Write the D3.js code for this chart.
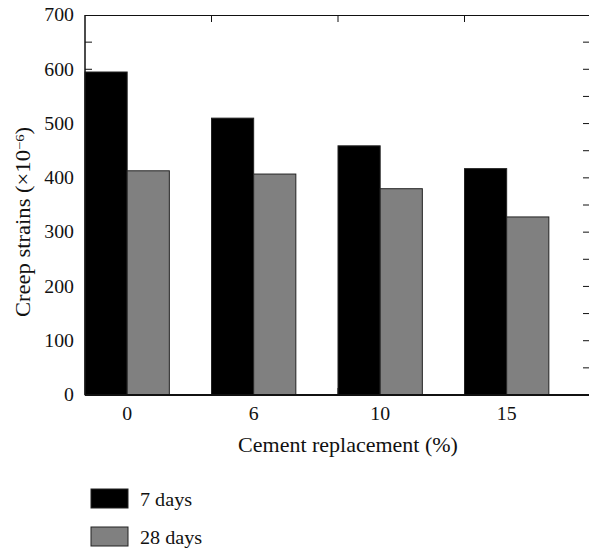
<!DOCTYPE html>
<html>
<head>
<meta charset="utf-8">
<script src="https://cdn.jsdelivr.net/npm/d3@7"></script>
<style>
  body { margin: 0; background: #fff; }
  svg text { font-family: "Liberation Serif", "DejaVu Serif", serif; fill: #111; }
</style>
</head>
<body>
<div id="chart"></div>
<script>
// chart data
const categories = ["0", "6", "10", "15"];
const seriesNames = ["7 days", "28 days"];
const days7 = [595, 510, 459, 417];
const days28 = [413, 407, 380, 328];
const yTicks = [0, 100, 200, 300, 400, 500, 600, 700];
const yMinorTicks = d3.range(50, 700, 50);

const colors = ["#000000", "#808080"];

const W = 589, H = 552;
const plot = { left: 85, right: 591, top: 15, bottom: 395 };
const sx = 1.1; // the reference typeface is a bit wider than Liberation Serif

const svg = d3.select("#chart")
    .append("svg")
    .attr("width", W)
    .attr("height", H);

// scales
const x = d3.scaleBand()
    .domain(categories)
    .range([plot.left, plot.right])
    .paddingInner(0)
    .paddingOuter(0);

const xSub = d3.scaleBand()
    .domain(seriesNames)
    .range([0, x.bandwidth() * 2 / 3]);

const y = d3.scaleLinear()
    .domain([0, 700])
    .range([plot.bottom, plot.top]);

// ticks on frame (inward)
const tickLen = 7;
const ticksG = svg.append("g").attr("stroke", "#111").attr("stroke-width", 1);

// left / right ticks every 50
ticksG.selectAll(".lt")
    .data(yMinorTicks)
    .enter().append("line")
    .attr("x1", plot.left).attr("x2", plot.left + tickLen)
    .attr("y1", d => y(d)).attr("y2", d => y(d));
ticksG.selectAll(".rt")
    .data(yMinorTicks)
    .enter().append("line")
    .attr("x1", plot.right - tickLen - 1).attr("x2", plot.right)
    .attr("y1", d => y(d)).attr("y2", d => y(d));

// top / bottom ticks at group boundaries
const bounds = categories.slice(1).map(c => x(c));
ticksG.selectAll(".tt")
    .data(bounds)
    .enter().append("line")
    .attr("x1", d => d).attr("x2", d => d)
    .attr("y1", plot.top).attr("y2", plot.top + tickLen);
ticksG.selectAll(".bt")
    .data(bounds)
    .enter().append("line")
    .attr("x1", d => d).attr("x2", d => d)
    .attr("y1", plot.bottom).attr("y2", plot.bottom - tickLen);

// bars
const rows = categories.map((c, i) => ({ cat: c, vals: [days7[i], days28[i]] }));

const groups = svg.append("g")
    .selectAll("g")
    .data(rows)
    .enter().append("g")
    .attr("transform", d => `translate(${x(d.cat)},0)`);

groups.selectAll("rect")
    .data(d => d.vals.map((v, k) => ({ key: seriesNames[k], value: v, k: k })))
    .enter().append("rect")
    .attr("x", d => xSub(d.key))
    .attr("y", d => y(d.value))
    .attr("width", xSub.bandwidth())
    .attr("height", d => y(0) - y(d.value))
    .attr("fill", d => colors[d.k])
    .attr("stroke", "#222")
    .attr("stroke-width", 1);

// frame
svg.append("line")
    .attr("x1", plot.left).attr("x2", plot.right)
    .attr("y1", plot.top + 0.5).attr("y2", plot.top + 0.5)
    .attr("stroke", "#111").attr("stroke-width", 1.2);
svg.append("line")
    .attr("x1", plot.left).attr("x2", plot.left)
    .attr("y1", plot.top).attr("y2", plot.bottom)
    .attr("stroke", "#111").attr("stroke-width", 1.5);
svg.append("line")
    .attr("x1", plot.right).attr("x2", plot.right)
    .attr("y1", plot.top).attr("y2", plot.bottom)
    .attr("stroke", "#111").attr("stroke-width", 1.5);
svg.append("line")
    .attr("x1", plot.left).attr("x2", plot.right)
    .attr("y1", plot.bottom).attr("y2", plot.bottom)
    .attr("stroke", "#111").attr("stroke-width", 2);

// y tick labels
svg.append("g")
    .selectAll("text")
    .data(yTicks)
    .enter().append("text")
    .attr("transform", d => `translate(74,${y(d)}) scale(${sx},1)`)
    .attr("dy", "0.35em")
    .attr("text-anchor", "end")
    .style("font-size", "18px")
    .text(d => d);

// x tick labels
svg.append("g")
    .selectAll("text")
    .data(categories)
    .enter().append("text")
    .attr("transform", d => `translate(${x(d) + x.bandwidth() / 3},420) scale(${sx},1)`)
    .attr("text-anchor", "middle")
    .style("font-size", "18px")
    .text(d => d);

// axis titles
svg.append("text")
    .attr("transform", `translate(348,452) scale(${sx},1)`)
    .attr("text-anchor", "middle")
    .style("font-size", "20px")
    .text("Cement replacement (%)");

const yt = svg.append("text")
    .attr("transform", `translate(30,222) rotate(-90) scale(1.13,1)`)
    .attr("text-anchor", "middle")
    .style("font-size", "20px");
yt.append("tspan").text("Creep strains (×10");
yt.append("tspan").attr("dy", "-0.5em").style("font-size", "13px").text("−6");
yt.append("tspan").attr("dy", "0.32em").text(")");

// legend
const legend = svg.append("g")
    .selectAll("g")
    .data(seriesNames)
    .enter().append("g")
    .attr("transform", (d, i) => `translate(91,${489 + i * 38})`);

legend.append("rect")
    .attr("width", 37)
    .attr("height", 19)
    .attr("fill", (d, i) => colors[i])
    .attr("stroke", "#222")
    .attr("stroke-width", 1);

legend.append("text")
    .attr("transform", `translate(49,17) scale(1.12,1)`)
    .style("font-size", "18px")
    .text(d => d);
</script>
</body>
</html>
